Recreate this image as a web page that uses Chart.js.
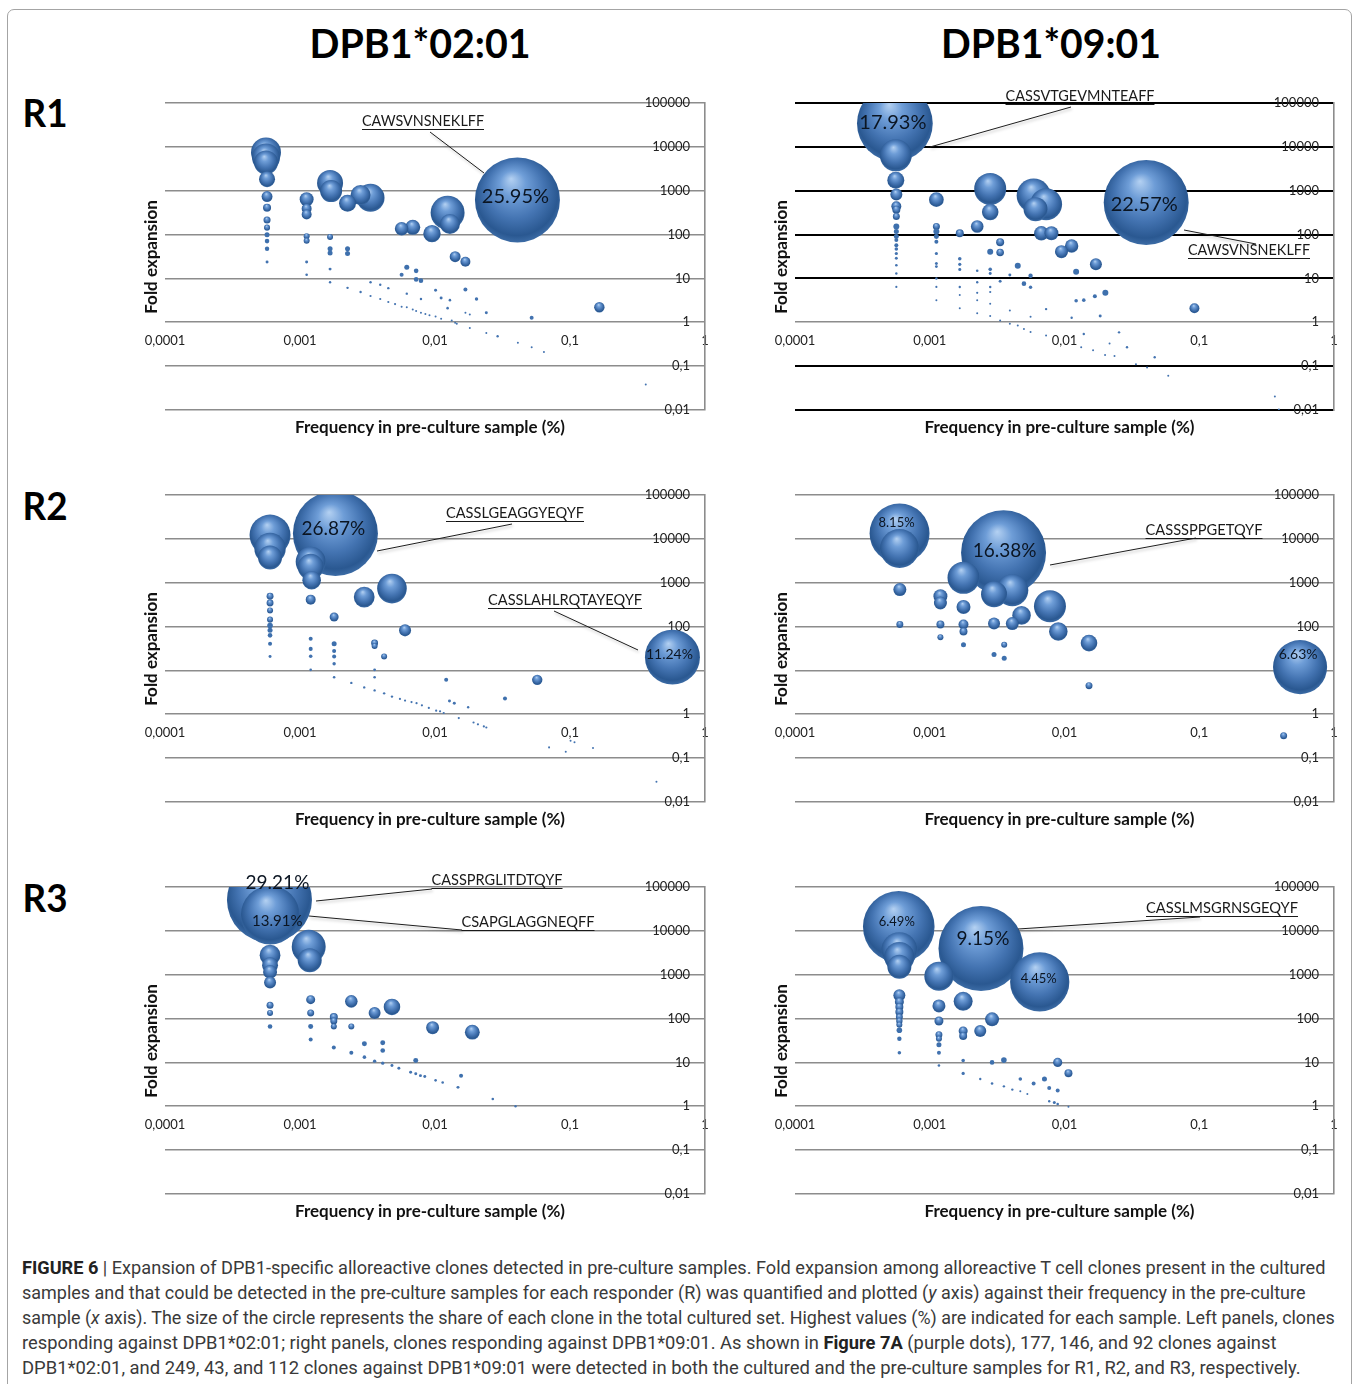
<!DOCTYPE html>
<html><head><meta charset="utf-8">
<script src="https://cdn.jsdelivr.net/npm/chart.js@4.4.1/dist/chart.umd.min.js"></script>
<style>
html,body{margin:0;padding:0;background:#fff;}
body{width:1356px;height:1384px;position:relative;overflow:hidden;font-family:Lato,"Open Sans",sans-serif;}
#frame{position:absolute;left:7px;top:9px;width:1345px;height:1420px;border:1.5px solid #a4a4a4;border-radius:7px;box-sizing:border-box;}
.t{position:absolute;white-space:nowrap;transform:translate(-50%,-50%);}
.title{font:bold 40px Lato;color:#000;}
.row{font:bold 38px Lato;color:#000;}
.axt{font:bold 17px Lato;color:#111;}
.ylab{font:bold 17px Lato;color:#111;}
.cap{position:absolute;left:22px;white-space:nowrap;font:17.5px "Liberation Sans Narrow","Roboto",sans-serif;color:#3a3a3a;transform-origin:0 50%;line-height:20px;}
.cap b{color:#222;}
canvas{position:absolute;}
</style></head><body>
<div id="frame"></div>

<div class="t title" data-w="221" style="left:420px;top:43px">DPB1*02:01</div>
<div class="t title" data-w="220" style="left:1051px;top:43px">DPB1*09:01</div>
<div class="t row" data-w="45" style="left:45px;top:112px">R1</div>
<div class="t row" data-w="45" style="left:45px;top:505px">R2</div>
<div class="t row" data-w="45" style="left:45px;top:897px">R3</div>

<canvas id="c1" width="600" height="345" style="left:130px;top:78px"></canvas>
<canvas id="c2" width="600" height="345" style="left:760px;top:78px"></canvas>
<canvas id="c3" width="600" height="345" style="left:130px;top:470px"></canvas>
<canvas id="c4" width="600" height="345" style="left:760px;top:470px"></canvas>
<canvas id="c5" width="600" height="345" style="left:130px;top:862px"></canvas>
<canvas id="c6" width="600" height="345" style="left:760px;top:862px"></canvas>

<div id="labels"></div>

<div class="cap" data-w="1303" style="top:1258px"><b>FIGURE 6</b> | Expansion of DPB1-specific alloreactive clones detected in pre-culture samples. Fold expansion among alloreactive T cell clones present in the cultured</div>
<div class="cap" data-w="1283" style="top:1283px">samples and that could be detected in the pre-culture samples for each responder (R) was quantified and plotted (<i>y</i> axis) against their frequency in the pre-culture</div>
<div class="cap" data-w="1313" style="top:1308px">sample (<i>x</i> axis). The size of the circle represents the share of each clone in the total cultured set. Highest values (%) are indicated for each sample. Left panels, clones</div>
<div class="cap" data-w="1254" style="top:1333px">responding against DPB1*02:01; right panels, clones responding against DPB1*09:01. As shown in <b>Figure 7A</b> (purple dots), 177, 146, and 92 clones against</div>
<div class="cap" data-w="1279" style="top:1358px">DPB1*02:01, and 249, 43, and 112 clones against DPB1*09:01 were detected in both the cultured and the pre-culture samples for R1, R2, and R3, respectively.</div>

<script>
// ---------------- DATA ----------------
const X_TICKS = [0.0001, 0.001, 0.01, 0.1, 1];
const X_LABELS = ['0,0001', '0,001', '0,01', '0,1', '1'];
const Y_TICKS = [0.01, 0.1, 1, 10, 100, 1000, 10000, 100000];
const Y_LABELS = ['0,01', '0,1', '1', '10', '100', '1000', '10000', '100000'];
const X_TITLE = 'Frequency in pre-culture sample (%)';
const Y_TITLE = 'Fold expansion';

// R1, DPB1*02:01
const R1_0201_FREQ = [0.00056,0.00056,0.00056,0.00057,0.00057,0.00057,0.00057,0.00057,0.00057,0.00057,0.00057,0.00057,
 0.00112,0.00112,0.00112,0.00112,0.00112,0.00112,0.00112,0.00167,0.0017,0.00167,0.00167,0.00167,0.00167,0.00167,
 0.00225,0.00225,0.00225,0.00225,0.00281,0.00281,0.00333,0.00333,0.00333,0.00393,0.00393,0.00451,0.00451,0.00506,
 0.00566,0.00566,0.00566,0.00618,0.00618,0.00618,0.00684,0.00684,0.00725,0.00725,0.00725,0.00787,0.00787,0.00787,
 0.00849,0.0091,0.0095,0.0101,0.0101,0.0111,0.0111,0.0124,0.0124,0.0129,0.0129,0.0133,0.0141,0.0141,0.0145,
 0.0168,0.0168,0.0168,0.0181,0.0181,0.0203,0.024,0.024,0.0291,0.0411,0.052,0.052,0.0641,0.165,0.364,0.0408];
const R1_0201_FOLD = [7450,5730,4400,1830,735,411,214,144,99,71,47.5,23.6,
 638,390,288,92,72,23.6,12.1,1500,980,88,47.5,38,16.3,8.2,
 516,47.5,37,6.1,795,4.9,690,8.2,3.97,7.2,3.4,6.0,2.9,2.6,
 136,12.1,2.25,17.9,4.5,2.2,146,1.95,14.9,9.5,1.8,8.9,3.4,1.65,
 1.55,1.45,105,5.4,1.35,3.6,1.2,316,2.1,174,3.2,1.1,31.3,0.97,0.93,
 24,5.6,1.64,1.5,0.74,3.4,1.65,0.57,0.48,0.34,1.27,0.27,0.21,2.2,0.038,614];
const R1_0201_SHARE = [3.23,2.82,2.07,0.92,0.43,0.23,0.18,0.13,0.09,0.076,0.07,0.032,
 0.70,0.36,0.36,0.13,0.13,0.032,0.024,2.43,1.74,0.13,0.09,0.09,0.032,0.021,
 1.04,0.09,0.09,0.021,1.44,0.021,2.82,0.021,0.017,0.021,0.017,0.021,0.017,0.017,
 0.66,0.057,0.014,0.09,0.021,0.014,0.81,0.014,0.076,0.076,0.014,0.076,0.021,0.014,
 0.014,0.014,1.09,0.032,0.014,0.032,0.014,4.15,0.024,1.44,0.024,0.014,0.43,0.014,0.014,
 0.36,0.057,0.014,0.014,0.014,0.042,0.032,0.014,0.021,0.014,0.057,0.014,0.014,0.39,0.014,25.95];

// R1, DPB1*09:01
const R1_0901_FREQ = [0.000551,0.00056,0.00056,0.000565,0.000565,0.000565,0.000565,0.000565,0.000565,0.000565,0.000565,0.000565,0.000565,0.000565,0.000565,0.000565,0.000565,0.000565,
 0.00112,0.00112,0.00112,0.00112,0.00112,0.00112,0.00112,0.00112,0.00112,0.00112,0.00112,
 0.00167,0.00167,0.00167,0.00167,0.00167,0.00167,0.00167,
 0.00225,0.00225,0.00225,0.00225,0.00225,0.00225,
 0.00281,0.00281,0.00281,0.00281,0.00281,0.00281,0.00281,0.00281,0.00281,
 0.00333,0.00333,0.00333,0.00333,0.00393,0.00393,0.00393,0.0045,0.0045,0.005,0.005,0.0056,0.0056,0.0056,0.0056,
 0.0059,0.0073,0.0061,0.00673,0.008,0.0073,0.0073,0.0095,0.0113,0.0113,0.0122,0.0122,0.0139,0.0139,0.0133,0.0163,
 0.0168,0.0171,0.0184,0.0201,0.02,0.0216,0.0235,0.0254,0.0291,0.0339,0.041,0.0467,0.0589,0.0921,0.364,0.39,0.0404];
const R1_0901_FOLD = [34100,6400,1740,815,440,370,259,153,117,90,75,57,47,37,29,20,13,6.4,
 626,153,117,90,69,37,22,18.6,10,6.4,3.2,
 107,28,21,16,6.4,4.2,2.1,
 153,15,8.2,4.7,3.2,1.6,
 1100,326,40.8,16.1,13,6.4,4.9,2.66,1.39,
 67,39,8.6,1.1,11.9,1.85,0.92,19.5,0.85,7.6,0.7,11.5,6.3,1.33,0.6,
 780,490,380,107,107,2.0,0.5,40.8,55,1.27,14.2,3.1,3.2,0.54,0.27,0.23,
 3.9,21,1.39,4.7,0.18,0.33,0.17,0.59,0.27,0.11,0.093,0.16,0.06,2.1,0.0202,0.0103,540];
const R1_0901_SHARE = [17.93,3.2,0.90,0.45,0.31,0.2,0.153,0.112,0.078,0.078,0.05,0.05,0.04,0.032,0.028,0.021,0.018,0.015,
 0.68,0.153,0.112,0.078,0.05,0.032,0.028,0.0245,0.018,0.015,0.0125,
 0.2,0.04,0.032,0.028,0.018,0.0125,0.0125,
 0.5,0.021,0.018,0.015,0.0125,0.0125,
 3.2,0.86,0.112,0.04,0.028,0.018,0.015,0.0125,0.0125,
 0.2,0.18,0.028,0.01,0.028,0.0125,0.008,0.112,0.008,0.066,0.008,0.06,0.036,0.0125,0.008,
 3.61,3.2,1.8,0.65,0.61,0.018,0.008,0.53,0.56,0.018,0.112,0.04,0.04,0.018,0.008,0.008,
 0.05,0.45,0.028,0.112,0.008,0.0125,0.008,0.018,0.018,0.008,0.008,0.018,0.008,0.31,0.0125,0.008,22.57];

// R2, DPB1*02:01
const R2_0201_FREQ = [0.0006,0.0006,0.0006,0.0006,0.0006,0.0006,0.0006,0.0006,0.0006,0.0006,0.0006,0.0006,
 0.0012,0.0012,0.00122,0.0012,0.0012,0.0012,0.0012,0.0012,
 0.00179,0.00179,0.00179,0.00179,0.00179,0.00179,0.0024,0.00299,0.00299,
 0.00357,0.00357,0.00357,0.00357,0.00357,0.0042,0.0042,0.0048,0.0048,0.0055,0.006,0.006,
 0.0067,0.0073,0.008,0.009,0.0102,0.0109,0.0116,0.0121,0.0128,0.0139,0.015,0.0176,0.0193,0.0208,0.023,0.024,
 0.033,0.0572,0.07,0.093,0.101,0.108,0.148,0.437,0.00183,0.574];
const R2_0201_FOLD = [12200,6030,3760,491,345,234,144,106,82,63,40.6,20.8,
 2990,2300,1140,411,53,31,21,10.3,
 165,40.6,27.6,20.8,14.2,7.0,5.2,470,4.1,
 42,36,10.3,7.0,3.5,20.8,3.0,735,2.53,2.24,82,2.05,
 1.9,1.79,1.6,1.4,1.21,1.17,1.07,6.1,2.0,1.79,0.82,1.45,0.65,0.59,0.53,0.5,
 2.3,6.1,0.176,0.14,0.25,0.23,0.17,0.029,13300,20.1];
const R2_0201_SHARE = [6.25,3.67,2.14,0.18,0.18,0.134,0.134,0.117,0.093,0.079,0.06,0.033,
 3.35,2.51,1.29,0.37,0.06,0.06,0.048,0.025,
 0.30,0.093,0.06,0.06,0.043,0.025,0.021,1.61,0.021,
 0.18,0.134,0.029,0.025,0.021,0.134,0.021,3.26,0.021,0.018,0.54,0.018,
 0.018,0.018,0.018,0.018,0.018,0.018,0.018,0.06,0.033,0.033,0.018,0.021,0.018,0.018,0.018,0.018,
 0.06,0.40,0.015,0.015,0.015,0.015,0.015,0.015,26.87,11.24];

// R2, DPB1*09:01
const R2_0901_FREQ = [0.000597,0.000597,0.0006,0.0006,0.0012,0.0012,0.0012,0.0012,
 0.00178,0.00178,0.00178,0.00178,0.00178,0.003,0.003,0.003,0.00357,0.00357,
 0.00353,0.0041,0.0041,0.0048,0.0078,0.009,0.0152,0.0152,0.423,0.56];
const R2_0901_FOLD = [13300,6030,697,112,491,345,112,57,
 1290,280,112,77,38.5,545,117,23,38.5,19,
 4800,673,117,180,290,77,42,4.5,0.325,11.9];
const R2_0901_SHARE = [8.15,3.45,0.383,0.111,0.444,0.383,0.145,0.082,
 2.32,0.444,0.227,0.145,0.057,1.53,0.326,0.057,0.082,0.057,
 16.38,2.32,0.383,0.78,2.32,0.78,0.625,0.111,0.111,6.63];

// R3, DPB1*02:01
const R3_0201_FREQ = [0.000594,0.000602,0.00116,0.00118,0.0006,0.0006,0.0006,0.0006,0.0006,0.0006,0.0006,
 0.0012,0.0012,0.0012,0.0012,0.00178,0.00178,0.00178,0.00178,0.0024,0.0024,0.0024,0.003,0.003,
 0.00357,0.00357,0.0041,0.0041,0.0041,0.0048,0.0048,0.0054,0.0066,0.0072,0.0072,0.0078,0.0084,
 0.0096,0.0101,0.0114,0.0148,0.0156,0.0189,0.0268,0.0395];
const R3_0201_FOLD = [50400,22900,4320,2140,2790,1645,1160,661,200,134,66,
 270,134,66,33.4,108,88,66,21.9,247,66,16.6,26.6,13.2,
 134,10.7,28,18.7,9.6,184,8.5,7.4,6.0,11.1,5.5,5.0,4.8,
 62,3.9,3.5,2.7,5.0,49,1.47,1.0];
const R3_0201_SHARE = [29.21,13.91,4.67,2.33,1.75,1.03,0.79,0.58,0.198,0.146,0.086,
 0.33,0.198,0.10,0.065,0.26,0.198,0.146,0.065,0.64,0.146,0.065,0.10,0.052,
 0.58,0.047,0.10,0.086,0.041,1.11,0.036,0.036,0.036,0.10,0.036,0.036,0.036,
 0.68,0.027,0.027,0.036,0.065,0.89,0.027,0.023];

// R3, DPB1*09:01
const R3_0901_FREQ = [0.000589,0.000595,0.000595,0.000595,0.000595,0.000595,0.000595,0.000595,0.000595,0.000595,0.000595,0.000595,0.000595,0.000595,
 0.00117,0.00117,0.00117,0.00117,0.00117,0.00117,0.00117,0.00117,
 0.00177,0.00177,0.00177,0.00177,0.00177,0.00237,0.00237,0.0029,0.0029,0.0029,0.00355,0.00355,
 0.0041,0.0047,0.0047,0.0053,0.0059,0.0071,0.0077,0.0077,0.0084,0.0089,0.0089,0.0089,0.0107,0.0107,
 0.0024,0.00655];
const R3_0901_FOLD = [12400,3630,2550,1510,339,239,184,141,108,88,72,54,34.5,16.6,
 922,194,88,42.8,34.5,25.2,16.6,8.5,
 247,52,40,11.1,5.6,52,4.2,96,10,3.3,11.3,2.85,
 2.4,4.2,2.2,1.9,3.3,4.2,2.6,1.3,1.22,10,2.3,1.13,5.7,0.97,
 3960,684];
const R3_0901_SHARE = [6.49,1.64,1.14,0.73,0.182,0.103,0.081,0.081,0.062,0.052,0.046,0.04,0.025,0.016,
 1.08,0.214,0.103,0.062,0.046,0.032,0.02,0.0086,
 0.457,0.103,0.081,0.016,0.013,0.182,0.0073,0.248,0.027,0.0086,0.04,0.0073,
 0.0073,0.016,0.005,0.005,0.02,0.032,0.02,0.0073,0.0114,0.107,0.02,0.0086,0.081,0.005,
 9.15,4.45];

// ---------------- LAYOUT / STYLE ----------------
const MAX_R = 42.5;
const GRAY = '#8c8c8c';

const PANELS = [
  {id:'c1', left:130, top:78, freq:R1_0201_FREQ, fold:R1_0201_FOLD, share:R1_0201_SHARE, grid:GRAY, gw:1.6, padR:25,
   callouts:[{text:'CAWSVNSNEKLFF', cx:423, cy:121, w:122, line:[430,132,484,173]}],
   pct:[{share:25.95, dx:-2, dy:-3, size:20}]},
  {id:'c2', left:760, top:78, freq:R1_0901_FREQ, fold:R1_0901_FOLD, share:R1_0901_SHARE, grid:'#000', gw:2, padR:26,
   callouts:[{text:'CASSVTGEVMNTEAFF', cx:1080, cy:96, w:149, line:[1071,107,930,147]},
             {text:'CAWSVNSNEKLFF', cx:1249, cy:250, w:122, line:[1184,230,1256,244]}],
   pct:[{share:17.93, dx:-2, dy:-1, size:20},{share:22.57, dx:-2, dy:2, size:20}]},
  {id:'c3', left:130, top:470, freq:R2_0201_FREQ, fold:R2_0201_FOLD, share:R2_0201_SHARE, grid:GRAY, gw:1.6, padR:25,
   callouts:[{text:'CASSLGEAGGYEQYF', cx:515, cy:513, w:138, line:[512,524,377,551]},
             {text:'CASSLAHLRQTAYEQYF', cx:565, cy:600, w:154, line:[554,611,638,650]}],
   pct:[{share:26.87, dx:-2, dy:-5, size:19},{share:11.24, dx:-3, dy:-3, size:14}]},
  {id:'c4', left:760, top:470, freq:R2_0901_FREQ, fold:R2_0901_FOLD, share:R2_0901_SHARE, grid:GRAY, gw:1.6, padR:26,
   callouts:[{text:'CASSSPPGETQYF', cx:1204, cy:530, w:117, line:[1196,538,1050,565]}],
   pct:[{share:8.15, dx:-3, dy:-11, size:13},{share:16.38, dx:1, dy:-2, size:19},{share:6.63, dx:-2, dy:-13, size:14}]},
  {id:'c5', left:130, top:862, freq:R3_0201_FREQ, fold:R3_0201_FOLD, share:R3_0201_SHARE, grid:GRAY, gw:1.6, padR:25,
   callouts:[{text:'CASSPRGLITDTQYF', cx:497, cy:880, w:131, line:[316,901,432,889]},
             {text:'CSAPGLAGGNEQFF', cx:528, cy:922, w:133, line:[309,916,462,930]}],
   pct:[{share:29.21, dx:8, dy:-17, size:19},{share:13.91, dx:7, dy:6, size:15}]},
  {id:'c6', left:760, top:862, freq:R3_0901_FREQ, fold:R3_0901_FOLD, share:R3_0901_SHARE, grid:GRAY, gw:1.6, padR:26,
   callouts:[{text:'CASSLMSGRNSGEQYF', cx:1222, cy:908, w:152, line:[1018,929,1200,917]}],
   pct:[{share:6.49, dx:-2, dy:-5, size:13},{share:9.15, dx:2, dy:-10, size:19},{share:4.45, dx:-1, dy:-3, size:13}]}
];

Chart.defaults.font.family = 'Lato';

function buildPoints(freq, fold, share) {
  const maxS = Math.max(...share);
  return freq.map((x, i) => ({x: x, y: fold[i], s: share[i],
      r: Math.max(1, MAX_R * Math.sqrt(share[i] / maxS))}))
    .sort((a, b) => b.s - a.s);
}

function bubbleFill(ctx) {
  const base = '#3e70ad';
  if (ctx.type !== 'data' || !ctx.raw) return base;
  const ch = ctx.chart, xs = ch.scales.x, ys = ch.scales.y;
  const r = ctx.raw.r;
  if (!xs || !ys || r < 3) return r < 2 ? '#4373b0' : base;
  const px = xs.getPixelForValue(ctx.raw.x), py = ys.getPixelForValue(ctx.raw.y);
  if (!isFinite(px) || !isFinite(py)) return base;
  const g = ch.ctx.createRadialGradient(px - 0.15 * r, py - 0.5 * r, 0, px, py - 0.08 * r, 1.1 * r);
  g.addColorStop(0, '#b4d1f2');
  g.addColorStop(0.28, '#6e9dd7');
  g.addColorStop(0.62, '#4474b2');
  g.addColorStop(0.88, '#2a5891');
  g.addColorStop(1, '#3e6ea8');
  return g;
}

const annotPlugin = {
  id: 'annot',
  afterDatasetsDraw(chart, args, opts) {
    const p = opts.panel;
    if (!p) return;
    const ctx = chart.ctx;
    const pts = chart.data.datasets[0].data;
    p.pct.forEach(l => {
      const pt = pts.find(q => q.s === l.share);
      if (!pt) return;
      const x = chart.scales.x.getPixelForValue(pt.x) + l.dx;
      const y = chart.scales.y.getPixelForValue(pt.y) + l.dy;
      ctx.save();
      ctx.font = l.size + 'px Lato';
      ctx.fillStyle = '#0b1522';
      ctx.textAlign = 'center';
      ctx.textBaseline = 'middle';
      ctx.fillText(pt.s.toFixed(2) + '%', x, y);
      ctx.restore();
    });
    p.callouts.forEach(c => {
      const [x1, y1, x2, y2] = c.line.map((v, i) => v - (i % 2 === 0 ? p.left : p.top));
      ctx.save();
      ctx.strokeStyle = '#1e1e1e';
      ctx.lineWidth = 1;
      ctx.shadowColor = 'rgba(0,0,0,0.28)';
      ctx.shadowBlur = 3; ctx.shadowOffsetX = 1; ctx.shadowOffsetY = 2;
      ctx.beginPath(); ctx.moveTo(x1, y1); ctx.lineTo(x2, y2); ctx.stroke();
      ctx.restore();
      const cx = c.cx - p.left, cy = c.cy - p.top;
      ctx.save();
      ctx.font = '15px Lato';
      const mw = ctx.measureText(c.text).width;
      ctx.translate(cx, cy);
      ctx.scale(c.w / mw, 1);
      ctx.fillStyle = '#1a1a1a';
      ctx.textAlign = 'center';
      ctx.textBaseline = 'middle';
      ctx.fillText(c.text, 0, 0);
      ctx.restore();
      ctx.save();
      ctx.strokeStyle = '#1a1a1a'; ctx.lineWidth = 1;
      const uy = Math.round(cy + 8) + 0.5;
      ctx.beginPath(); ctx.moveTo(cx - c.w / 2, uy); ctx.lineTo(cx + c.w / 2, uy); ctx.stroke();
      ctx.restore();
    });
  }
};

function logTicks(vals) { return s => { s.ticks = vals.map(v => ({value: v})); }; }

PANELS.forEach(p => {
  const el = document.getElementById(p.id);
  new Chart(el, {
    type: 'bubble',
    data: {datasets: [{data: buildPoints(p.freq, p.fold, p.share), backgroundColor: bubbleFill,
      borderWidth: 0, hoverBorderWidth: 0, clip: 0}]},
    options: {
      responsive: false, animation: false, events: [],
      layout: {autoPadding: false, padding: {left: 35, right: p.padR, top: 25, bottom: 13}},
      plugins: {legend: {display: false}, tooltip: {enabled: false}, annot: {panel: p}},
      scales: {
        x: {type: 'logarithmic', min: 0.0001, max: 1, position: {y: 1},
          grid: {display: false, drawTicks: false}, border: {display: false},
          afterBuildTicks: logTicks(X_TICKS),
          afterFit: s => { s.height = 0; },
          ticks: {autoSkip: false, maxRotation: 0, minRotation: 0, padding: 11, color: '#222',
            font: {size: 13}, callback: (v) => X_LABELS[X_TICKS.indexOf(v)]}},
        y: {type: 'logarithmic', min: 0.01, max: 100000, position: 'right',
          grid: {color: ctx => (ctx.tick && ctx.tick.value === 1) ? GRAY : p.grid, lineWidth: ctx => (ctx.tick && ctx.tick.value === 1) ? 1.6 : p.gw, drawTicks: false},
          border: {display: true, color: GRAY, width: 1.6},
          afterBuildTicks: logTicks(Y_TICKS),
          afterFit: s => { s.width = 0; },
          ticks: {display: false}},
        yl: {type: 'logarithmic', min: 0.01, max: 100000, position: 'right', z: 1,
          grid: {display: false, drawTicks: false}, border: {display: false},
          afterBuildTicks: logTicks(Y_TICKS),
          afterFit: s => { s.width = 0; },
          ticks: {mirror: true, padding: -15, color: '#222', font: {size: 13},
            callback: (v) => Y_LABELS[Y_TICKS.indexOf(v)]}}
      }
    },
    plugins: [annotPlugin]
  });
  const lab = document.getElementById('labels');
  const cx = p.left + 35 + (600 - 35 - p.padR) / 2;
  const xt = document.createElement('div');
  xt.className = 't axt'; xt.textContent = X_TITLE;
  xt.style.left = (cx - 5) + 'px'; xt.style.top = (p.top + 348) + 'px';
  lab.appendChild(xt);
  const yt = document.createElement('div');
  yt.className = 't ylab'; yt.textContent = Y_TITLE;
  yt.style.left = (p.left + 20) + 'px'; yt.style.top = (p.top + 179) + 'px';
  yt.style.transform = 'translate(-50%,-50%) rotate(-90deg)';
  lab.appendChild(yt);
});

document.querySelectorAll('.t[data-w]').forEach(el => {
  const w = el.getBoundingClientRect().width;
  const k = (+el.dataset.w) / w;
  el.style.transform = 'translate(-50%,-50%) scaleX(' + k.toFixed(3) + ')';
});
document.querySelectorAll('.cap').forEach(el => {
  const w = el.getBoundingClientRect().width;
  const k = (+el.dataset.w) / w;
  el.style.transform = 'scaleX(' + k.toFixed(3) + ')';
});
</script>
</body></html>
